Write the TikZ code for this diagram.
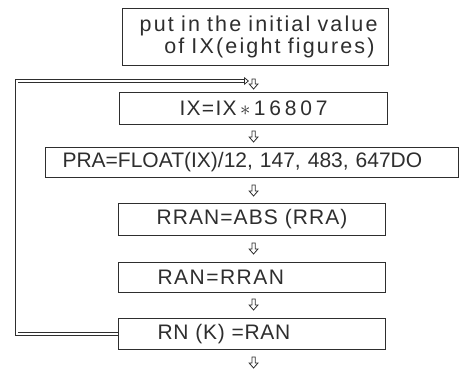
\documentclass[tikz,border=0pt]{standalone}
\usepackage{fontspec}
\setmainfont{Liberation Sans}
\newfontfamily\widefont[LetterSpace=10,WordSpace=1.6]{Liberation Sans}
\usetikzlibrary{arrows.meta,calc}

\definecolor{ink}{gray}{0.18}

\tikzset{
  box/.style={draw=ink, line width=1.1pt, anchor=north west,
    inner xsep=0pt, inner ysep=0pt, text=ink,
    font=\fontsize{21}{22}\selectfont},
  % hollow block arrow pointing down from start to target
  flow/.style={draw=ink, line width=0.8pt, line join=miter,
    to path={let \p1=(\tikztostart), \p2=(\tikztotarget) in
      (\x1-1.6pt,\y1) -- (\x1-1.6pt,\y2+5pt) -- (\x1-4.4pt,\y2+5pt)
      -- (\x1,\y2) -- (\x1+4.4pt,\y2+5pt) -- (\x1+1.6pt,\y2+5pt)
      -- (\x1+1.6pt,\y1) -- cycle}},
  backloop/.style={draw=ink, line width=0.8pt, double, double distance=2pt,
    -{Triangle[open, length=5pt, width=8pt, line width=0.8pt]}, line join=miter},
}

\begin{document}
\begin{tikzpicture}[x=1pt,y=-1pt]
  \useasboundingbox (0,0) rectangle (459,374);

  % program steps
  \node[box, minimum width=266pt, minimum height=57pt, text width=244pt,
        inner xsep=11pt, align=right,
        font=\widefont\fontsize{21.5}{22.5}\selectfont]
        (b1) at (122,8) {put in the initial value\hspace*{3pt}\\of IX(eight figures)\hspace*{3pt}};
  \node[box, minimum width=268pt, minimum height=32pt, text width=268pt,
        align=center]
        (b2) at (119,92) {{\addfontfeature{LetterSpace=6}IX=IX}\,$\ast$\,{\addfontfeature{LetterSpace=18}16807}};
  \node[box, minimum width=413pt, minimum height=30pt, text width=413pt,
        align=left]
        (b3) at (45,147) {\hspace*{17pt}PRA=FLOAT(IX)/12, 147, 483, 647DO};
  \node[box, minimum width=267pt, minimum height=32pt, text width=267pt,
        align=center]
        (b4) at (118,203) {{\addfontfeature{LetterSpace=5}RRAN=ABS (RRA)}};
  \node[box, minimum width=267pt, minimum height=30pt, text width=267pt,
        align=left]
        (b5) at (118,262) {\hspace*{39pt}{\addfontfeature{LetterSpace=7}RAN=RRAN}};
  \node[box, minimum width=267pt, minimum height=31pt, text width=267pt,
        align=left]
        (b6) at (118,318) {\hspace*{39pt}{\addfontfeature{LetterSpace=3}RN (K) =RAN}};

  % flow between steps
  \coordinate (out) at (254,368);
  \coordinate (join) at (249,81);
  \coordinate (corner) at (16.5,81);
  \draw[flow] ($(b1.south -| b2.north)+(0,13)$) to ($(b2.north)+(0,-3)$);
  \draw[flow] ($(b2.south)+(0,6)$) to ($(b2.south |- b3.north)+(0,-5)$);
  \draw[flow] ($(b3.south -| b2.north)+(0,7)$) to ($(b2.north |- b4.north)+(0,-7)$);
  \draw[flow] ($(b4.south -| b2.north)+(0,7)$) to ($(b2.north |- b5.north)+(0,-8)$);
  \draw[flow] ($(b5.south -| b2.north)+(0,6)$) to ($(b2.north |- b6.north)+(0,-8)$);
  \draw[flow] ($(b6.south -| b2.north)+(0,7)$) to (b2.north |- out);

  % loop back to the start
  \draw[backloop] (b6.west) -| (corner) -- (join);
\end{tikzpicture}
\end{document}
